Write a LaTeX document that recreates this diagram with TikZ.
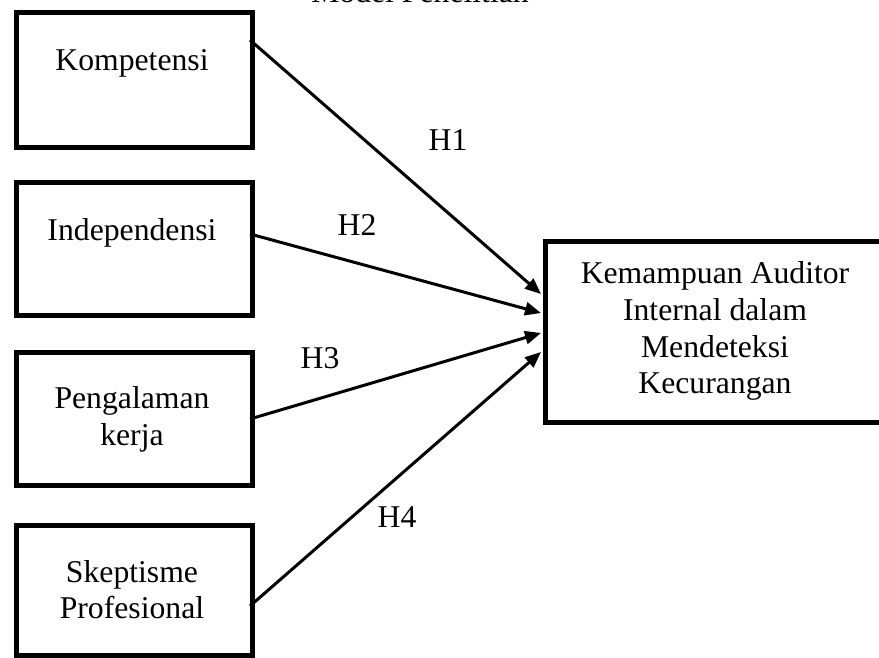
\documentclass[tikz,border=0pt]{standalone}
\usepackage{fontspec}
\setmainfont{Liberation Serif}
\usetikzlibrary{arrows.meta}
\begin{document}
\begin{tikzpicture}[x=1pt,y=-1pt,
  varbox/.style={draw=black,line width=4.5pt,minimum width=236pt,inner sep=0pt,anchor=north west},
  lbl/.style={font=\fontsize{31.7pt}{36.5pt}\selectfont,anchor=base,inner sep=0pt},
  hyp/.style={font=\fontsize{31.7pt}{36.5pt}\selectfont,inner sep=0pt},
  link/.style={line width=3pt,-{Triangle[length=16pt,width=13pt]}}]
\useasboundingbox (0,0) rectangle (879,657);
\clip (0,0) rectangle (879,657);
% title (cut off at top, as in the reference)
\node[lbl] (title) at (420,2) {Model Penelitian};
% boxes
\node[varbox,minimum height=135pt] (b1) at (14,10) {};
\node[varbox,minimum height=133pt] (b2) at (14,180) {};
\node[varbox,minimum height=133pt] (b3) at (14,350) {};
\node[varbox,minimum height=130pt] (b4) at (14,523) {};
\node[draw=black,line width=4.5pt,minimum width=350pt,minimum height=181pt,inner sep=0pt,anchor=north west] (y) at (543,239) {};
% labels
\node[lbl] (t1) at (132,70) {Kompetensi};
\node[lbl] (t2) at (132,240) {Independensi};
\node[lbl] (t3a) at (132,408) {Pengalaman};
\node[lbl] (t3b) at (132,445) {kerja};
\node[lbl] (t4a) at (132,582) {Skeptisme};
\node[lbl] (t4b) at (132,618) {Profesional};
\node[lbl] (ya) at (715,283) {Kemampuan Auditor};
\node[lbl] (yb) at (715,320) {Internal dalam};
\node[lbl] (yc) at (715,357) {Mendeteksi};
\node[lbl] (yd) at (715,393) {Kecurangan};
% connector end points
\coordinate (s1) at (250,40);
\coordinate (s2) at (250,234);
\coordinate (s3) at (250,419);
\coordinate (s4) at (250,606);
\coordinate (e1) at (541,294);
\coordinate (e2) at (541,313);
\coordinate (e3) at (541,333);
\coordinate (e4) at (541,352);
\draw[link] (s1) -- (e1);
\draw[link] (s2) -- (e2);
\draw[link] (s3) -- (e3);
\draw[link] (s4) -- (e4);
% hypothesis labels
\node[hyp] (h1) at (448,140) {H1};
\node[hyp] (h2) at (357,225) {H2};
\node[hyp] (h3) at (320,358) {H3};
\node[hyp] (h4) at (397,517) {H4};
\end{tikzpicture}
\end{document}
